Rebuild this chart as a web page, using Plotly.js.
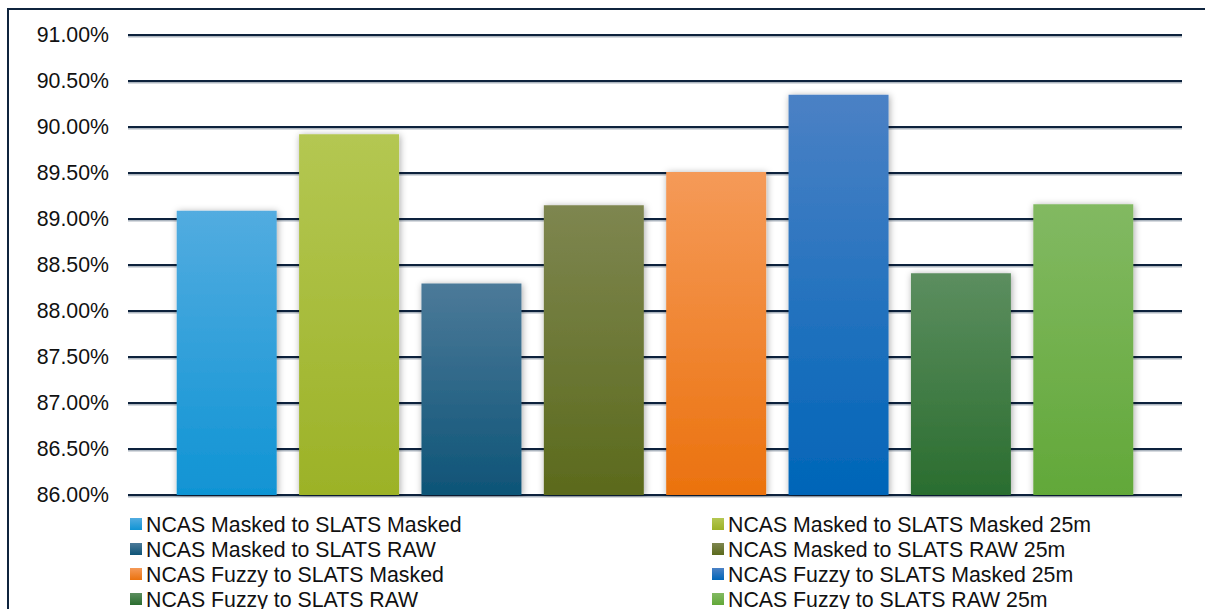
<!DOCTYPE html>
<html>
<head>
<meta charset="utf-8">
<script src="https://cdn.plot.ly/plotly-3.0.1.min.js"></script>
<style>
  html, body { margin: 0; padding: 0; background: #ffffff; overflow: hidden; }
  #chart { width: 1205px; height: 609px; }
</style>
</head>
<body>
<div id="chart"></div>
<script>
// ---- data ----
const categories = ['Accuracy'];
const seriesNames = [
  'NCAS Masked to SLATS Masked',
  'NCAS Masked to SLATS Masked 25m',
  'NCAS Masked to SLATS RAW',
  'NCAS Masked to SLATS RAW 25m',
  'NCAS Fuzzy to SLATS Masked',
  'NCAS Fuzzy to SLATS Masked 25m',
  'NCAS Fuzzy to SLATS RAW',
  'NCAS Fuzzy to SLATS RAW 25m'
];
const seriesValues = [89.09, 89.92, 88.30, 89.15, 89.51, 90.35, 88.41, 89.16];
const tickValues = [86, 86.5, 87, 87.5, 88, 88.5, 89, 89.5, 90, 90.5, 91];
const tickLabels = tickValues.map(v => v.toFixed(2) + '%');
const axisMin = 86, axisMax = 91;

// ---- styles ----
const topColors    = ['#52ACE0', '#B4C752', '#4C7A99', '#7E8650', '#F59A58', '#4B81C5', '#5C8E5F', '#82B962'];
const bottomColors = ['#1094D4', '#9CB227', '#0E5477', '#5B6A1C', '#EB720E', '#0065B8', '#2A6D2F', '#62A839'];
const midColors    = ['#2EA0DA', '#A8BC3A', '#2D6788', '#6C7836', '#F08633', '#2573BE', '#437E47', '#72B14D'];
const FONT = 'Liberation Sans, Arial, sans-serif';
const NAVY = '#0F243E';

const data = seriesNames.map((name, i) => ({
  type: 'bar',
  name: name,
  x: categories,
  y: [seriesValues[i] - axisMin],
  base: axisMin,
  marker: { color: midColors[i], line: { width: 0 } },
  hoverinfo: 'none'
}));

// plot area: x 128..1182, y 33..497 ; 92 px per 1%
const plotH = 464, plotW = 1054, pad = 2 / 92;
const layout = {
  width: 1205,
  height: 609,
  margin: { l: 128, r: 23, t: 33, b: 112, autoexpand: false },
  paper_bgcolor: '#ffffff',
  plot_bgcolor: 'rgba(0,0,0,0)',
  font: { family: FONT, size: 21, color: '#111111' },
  barmode: 'group',
  bargap: 0.0712,
  bargroupgap: 0.183,
  showlegend: true,
  legend: {
    orientation: 'h',
    x: 0, xanchor: 'left',
    y: -0.03, yanchor: 'top',
    font: { family: FONT, size: 21.3, color: '#111111' },
    bgcolor: 'rgba(0,0,0,0)',
    entrywidth: 480,
    entrywidthmode: 'pixels'
  },
  xaxis: {
    type: 'category',
    range: [-0.5, 0.5],
    showgrid: false, zeroline: false, showline: false,
    showticklabels: false, ticks: ''
  },
  yaxis: {
    range: [axisMin - pad, axisMax + pad],
    tickmode: 'array',
    tickvals: tickValues,
    ticktext: tickLabels,
    showgrid: true,
    gridcolor: NAVY,
    gridwidth: 2,
    zeroline: false,
    showline: false,
    ticks: '',
    ticklabelstandoff: 18,
    tickfont: { family: FONT, size: 21.3, color: '#111111' }
  },
  shapes: [{
    type: 'rect', xref: 'paper', yref: 'paper',
    x0: (8 - 128) / plotW, x1: 1.2,
    y0: -0.4, y1: (497 - 9) / plotH,
    line: { color: NAVY, width: 2 },
    fillcolor: 'rgba(0,0,0,0)',
    layer: 'below'
  }]
};

const gd = document.getElementById('chart');
Plotly.newPlot(gd, data, layout, { staticPlot: true, displayModeBar: false }).then(() => {
  const NS = 'http://www.w3.org/2000/svg';
  const svg = gd.querySelector('svg.main-svg');
  const defs = document.createElementNS(NS, 'defs');
  svg.insertBefore(defs, svg.firstChild);

  function makeGrad(id, i) {
    const lg = document.createElementNS(NS, 'linearGradient');
    lg.setAttribute('id', id);
    lg.setAttribute('x1', '0'); lg.setAttribute('y1', '0');
    lg.setAttribute('x2', '0'); lg.setAttribute('y2', '1');
    const s1 = document.createElementNS(NS, 'stop');
    s1.setAttribute('offset', '0'); s1.setAttribute('stop-color', topColors[i]);
    const s2 = document.createElementNS(NS, 'stop');
    s2.setAttribute('offset', '1'); s2.setAttribute('stop-color', bottomColors[i]);
    lg.appendChild(s1); lg.appendChild(s2);
    defs.appendChild(lg);
    return 'url(#' + id + ')';
  }
  function makeFilter(id, dx, dy, sd, color, op) {
    const f = document.createElementNS(NS, 'filter');
    f.setAttribute('id', id);
    f.setAttribute('filterUnits', 'userSpaceOnUse');
    f.setAttribute('x', '-300'); f.setAttribute('y', '-300');
    f.setAttribute('width', '2000'); f.setAttribute('height', '1300');
    const ds = document.createElementNS(NS, 'feDropShadow');
    ds.setAttribute('dx', String(dx)); ds.setAttribute('dy', String(dy));
    ds.setAttribute('stdDeviation', String(sd));
    ds.setAttribute('flood-color', color); ds.setAttribute('flood-opacity', String(op));
    f.appendChild(ds);
    defs.appendChild(f);
    return 'url(#' + id + ')';
  }
  const barShadow = makeFilter('barShadow', 1, 1, 3.5, '#000000', 0.35);
  const gridShadow = makeFilter('gridShadow', 0, 1.5, 0.6, '#8A96A6', 0.7);
  const grads = topColors.map((c, i) => makeGrad('barGrad' + i, i));

  // bars
  gd.querySelectorAll('.barlayer .trace').forEach((tr) => {
    const idx = tr.__data__[0].trace.index;
    tr.querySelectorAll('path').forEach((p) => {
      p.style.fill = grads[idx];
      p.setAttribute('filter', barShadow);
    });
  });
  // grid lines
  gd.querySelectorAll('.gridlayer path').forEach(p => {
    p.setAttribute('filter', gridShadow);
  });

  // legend: two columns, tight rows
  gd.querySelectorAll('.legend [clip-path]').forEach(el => el.removeAttribute('clip-path'));
  const items = Array.from(gd.querySelectorAll('.legend .traces'));
  const parseT = (t) => {
    const m = /translate\(\s*([-\d.e]+)[ ,]+([-\d.e]+)\s*\)/.exec(t || '');
    return m ? [parseFloat(m[1]), parseFloat(m[2])] : [0, 0];
  };
  items.forEach((g) => {
    const idx = g.__data__[0].trace.index;
    const row = Math.floor(idx / 2), col = idx % 2;
    const cx = 136 + col * 582, cy = 524 + row * 25;
    const p = g.querySelector('.legendpoints path');
    const r = p.getBoundingClientRect();
    const [tx, ty] = parseT(g.getAttribute('transform'));
    const nx = tx + cx - (r.left + r.width / 2);
    const ny = ty + cy - (r.top + r.height / 2);
    g.setAttribute('transform', 'translate(' + nx + ',' + ny + ')');
    p.style.fill = grads[idx];
    const txt = g.querySelector('text.legendtext');
    const trc = txt.getBoundingClientRect();
    const dx = (cx + 10) - trc.left;
    const ox = parseFloat(txt.getAttribute('x') || '0');
    txt.setAttribute('x', ox + dx);
    txt.querySelectorAll('tspan[x]').forEach(ts => ts.setAttribute('x', parseFloat(ts.getAttribute('x')) + dx));
  });
});
</script>
</body>
</html>
